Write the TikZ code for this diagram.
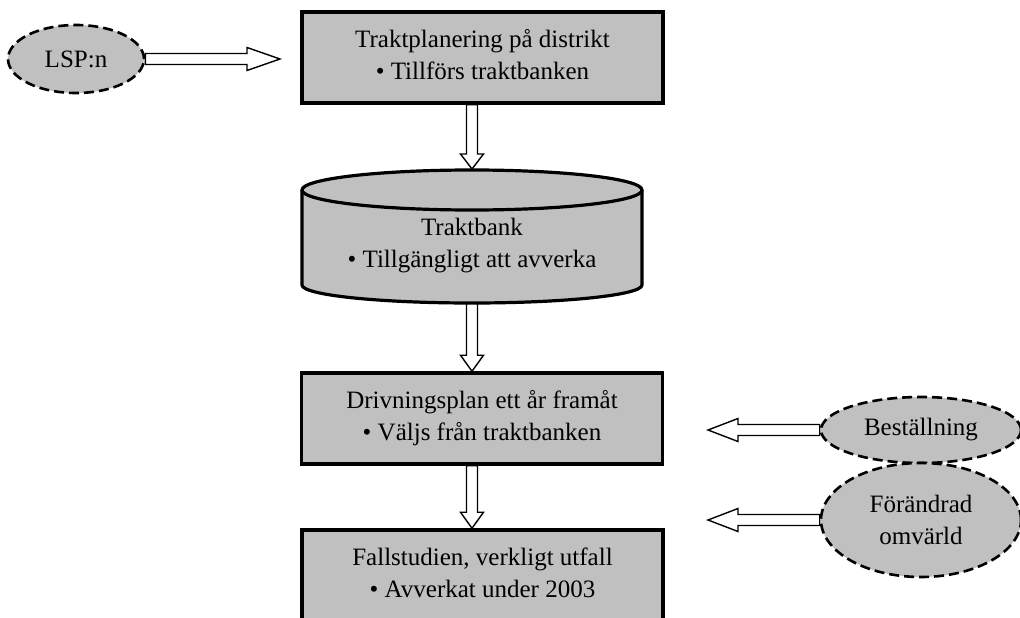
\documentclass[tikz,border=0pt]{standalone}
\usepackage{fontspec}
\setmainfont{Liberation Serif}
\usetikzlibrary{calc,shapes.geometric}
\definecolor{boxgray}{HTML}{C0C0C0}
\tikzset{
  procbox/.style={draw=black, line width=3.5pt, fill=boxgray, rectangle, minimum width=361pt, minimum height=91pt, inner sep=0pt, align=center, font=\fontsize{25}{32}\selectfont},
  extern/.style={draw=black, line width=2.6pt, dash pattern=on 10pt off 5pt, fill=boxgray, ellipse, inner sep=0pt, align=center, font=\fontsize{25}{32}\selectfont},
  banktext/.style={rectangle, inner sep=0pt, align=center, font=\fontsize{25}{32}\selectfont},
  cylline/.style={draw=black, line width=3.2pt},
  blockarr/.style={draw=black, line width=1.4pt, fill=white, line join=miter},
}
\newcommand\blockarrow[3]{%
  \coordinate (hb) at ($(#2)!#3!(#1)$);
  \draw[blockarr] ($(#1)!5.5pt!90:(#2)$) -- ($(hb)!5.5pt!90:(#2)$) -- ($(hb)!11.5pt!90:(#2)$) -- (#2)
    -- ($(hb)!11.5pt!-90:(#2)$) -- ($(hb)!5.5pt!-90:(#2)$) -- ($(#1)!5.5pt!-90:(#2)$) -- cycle;
}
\begin{document}
\begin{tikzpicture}[x=1pt,y=1pt]
\useasboundingbox (0,0) rectangle (1020,-618);
\clip (0,0) rectangle (1020,-618);
% cylinder
\fill[boxgray] (302,-190) -- (302,-285) arc[start angle=180,end angle=360,x radius=170,y radius=18] -- (642,-190) arc[start angle=0,end angle=180,x radius=170,y radius=20] -- cycle;
\draw[cylline] (302,-190) -- (302,-285) arc[start angle=180,end angle=360,x radius=170,y radius=18] -- (642,-190);
\draw[cylline] (472,-190) ellipse[x radius=170,y radius=20];
\node[banktext] (bank) at (472,-246) {Traktbank\\• Tillgängligt att avverka};
% boxes
\node[procbox] (plan) at (482.5,-57.5) {Traktplanering på distrikt\\• Tillförs traktbanken\rule[-6pt]{0pt}{1pt}};
\node[procbox] (driv) at (482,-418.5) {Drivningsplan ett år framåt\\• Väljs från traktbanken\rule[-6pt]{0pt}{1pt}};
\node[procbox] (fall) at (482.5,-575.5) {Fallstudien, verkligt utfall\\• Avverkat under 2003\rule[-6pt]{0pt}{1pt}};
% external
\node[extern, minimum width=136pt, minimum height=68pt] (lsp) at (76,-59) {LSP:n};
\node[extern, minimum width=200pt, minimum height=66pt] (best) at (921,-430) {Beställning};
\node[extern, minimum width=200pt, minimum height=114pt] (omv) at (921,-520) {Förändrad\\omvärld};
% arrows
\coordinate (lspend) at (280,-59);
\coordinate (bestend) at (708,-430);
\coordinate (omvend) at (708,-520);
\coordinate (a1s) at (plan.south -| 472,0);
\coordinate (a1e) at (472,-169);
\coordinate (a2s) at (472,-304);
\coordinate (a2e) at (driv.north -| 472,0);
\coordinate (a3s) at (driv.south -| 472,0);
\coordinate (a3e) at (fall.north -| 472,0);
\blockarrow{lsp.east}{lspend}{33pt}
\blockarrow{best.west}{bestend}{30pt}
\blockarrow{omv.west}{omvend}{30pt}
\blockarrow{a1s}{a1e}{15pt}
\blockarrow{a2s}{a2e}{16pt}
\blockarrow{a3s}{a3e}{16pt}
\end{tikzpicture}
\end{document}
